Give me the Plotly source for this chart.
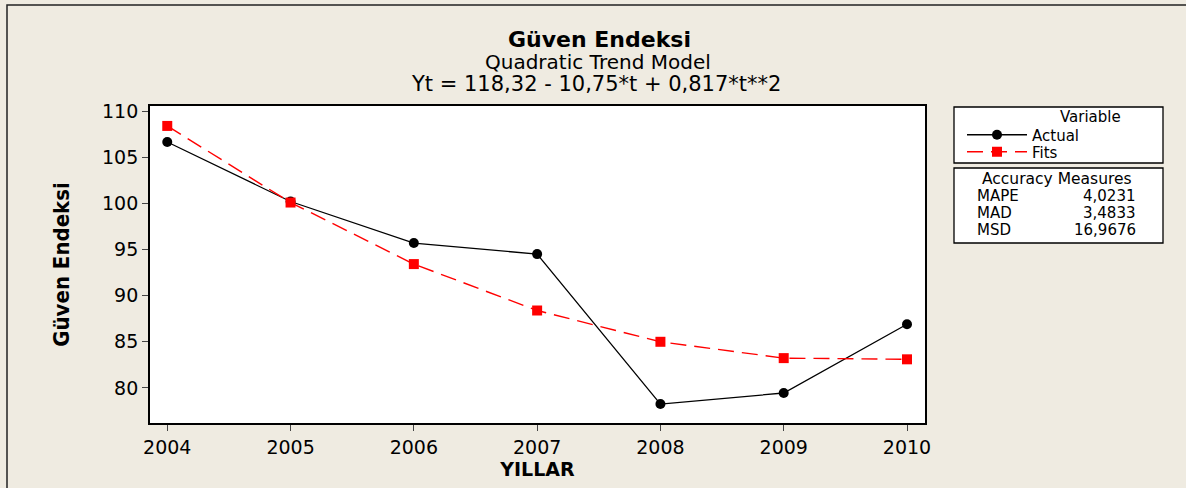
import plotly.graph_objects as go

BG = "#EFEBE1"
FONT = "DejaVu Sans, Verdana, sans-serif"

years = [2004, 2005, 2006, 2007, 2008, 2009, 2010]
actual = [106.65, 100.2, 95.7, 94.5, 78.25, 79.45, 86.9]
fits = [108.39, 100.09, 93.42, 88.39, 85.00, 83.23, 83.10]

measure_names = ["MAPE", "MAD", "MSD"]
measure_values = ["4,0231", "3,4833", "16,9676"]

# plot area in pixels
L, R, T, B = 150, 925, 106, 423
W, H = 1186, 488


def px_x(p):
    return (p - L) / (R - L)


def px_y(p):
    return (B - p) / (B - T)


fig = go.Figure()
fig.add_trace(go.Scatter(x=years, y=actual, name="Actual", mode="lines+markers",
                         line=dict(color="black", width=1.3),
                         marker=dict(symbol="circle", size=10, color="black"),
                         legend="legend"))
fig.add_trace(go.Scatter(x=years, y=fits, name="Fits", mode="lines+markers",
                         line=dict(color="#FF0000", width=1.4, dash="16px,8px"),
                         marker=dict(symbol="square", size=10, color="#FF0000"),
                         legend="legend2"))

shapes = [
    # outer frame
    dict(type="rect", xref="paper", yref="paper", x0=px_x(7), x1=px_x(1200),
         y0=px_y(510), y1=px_y(5), line=dict(color="#222", width=1.5), layer="below"),
    # legend boxes
    dict(type="rect", xref="paper", yref="paper", x0=px_x(954), x1=px_x(1163),
         y0=px_y(163), y1=px_y(107), line=dict(color="black", width=1.3), fillcolor="white"),
    dict(type="rect", xref="paper", yref="paper", x0=px_x(954), x1=px_x(1163),
         y0=px_y(243), y1=px_y(168), line=dict(color="black", width=1.3), fillcolor="white"),
]

ann = [
    dict(text="<b>Güven Endeksi</b>", x=px_x(599), y=px_y(39), font=dict(size=22)),
    dict(text="Quadratic Trend Model", x=px_x(598), y=px_y(62), font=dict(size=20)),
    dict(text="Yt = 118,32 - 10,75*t + 0,817*t**2", x=px_x(596), y=px_y(84), font=dict(size=21)),
    dict(text="Variable", x=px_x(1090), y=px_y(117), font=dict(size=15)),
    dict(text="Accuracy Measures", x=px_x(1057), y=px_y(179), font=dict(size=15.5)),
]
for i, (n, v) in enumerate(zip(measure_names, measure_values)):
    yy = px_y(196 + 17 * i)
    ann.append(dict(text=n, x=px_x(975), y=yy, xanchor="left", font=dict(size=15)))
    ann.append(dict(text=v, x=px_x(1138), y=yy, xanchor="right", font=dict(size=15)))
for a in ann:
    a.update(xref="paper", yref="paper", showarrow=False, yanchor="middle")
    a.setdefault("xanchor", "center")
    a["font"].update(color="black", family=FONT)

leg_common = dict(xanchor="left", yanchor="middle", bgcolor="rgba(0,0,0,0)",
                  borderwidth=0, itemwidth=60, font=dict(size=15, family=FONT, color="black"))
fig.update_layout(
    width=W, height=H,
    margin=dict(l=L, r=W - R, t=T, b=H - B),
    paper_bgcolor=BG, plot_bgcolor="white",
    font=dict(family=FONT, color="black", size=19),
    shapes=shapes, annotations=ann,
    showlegend=True,
    legend=dict(x=px_x(962), y=px_y(135), **leg_common),
    legend2=dict(x=px_x(962), y=px_y(152), **leg_common),
)
fig.update_xaxes(range=[2003.86, 2010.146], tickvals=years, ticks="outside", ticklen=6,
                 showline=True, linecolor="black", linewidth=1.8, mirror=True,
                 showgrid=False, zeroline=False, tickfont=dict(size=19),
                 title=dict(text="<b>YILLAR</b>", font=dict(size=19), standoff=2))
fig.update_yaxes(range=[76.2, 110.55], tickvals=[80, 85, 90, 95, 100, 105, 110],
                 ticks="outside", ticklen=6,
                 showline=True, linecolor="black", linewidth=1.8, mirror=True,
                 showgrid=False, zeroline=False, tickfont=dict(size=19),
                 title=dict(text="<b>Güven Endeksi</b>", standoff=26,
                            font=dict(size=22, family="DejaVu Sans Condensed, Liberation Sans Narrow, sans-serif")))

fig.write_html("out.html", config={"displayModeBar": False},
               post_script="document.body.style.margin='0px';document.body.style.background='%s';" % BG)
